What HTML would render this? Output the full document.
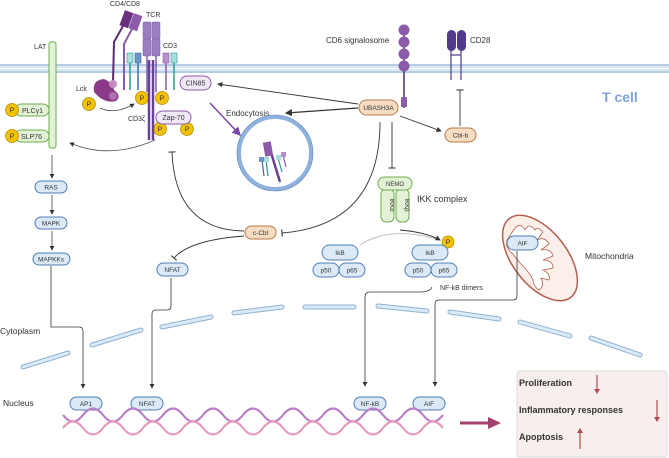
<!DOCTYPE html><html><head><style>body{margin:0;background:#fff}svg{display:block}text{font-family:"Liberation Sans",sans-serif}</style></head><body>
<svg width="669" height="458" viewBox="0 0 669 458" xmlns="http://www.w3.org/2000/svg">
<defs>
<marker id="a" markerWidth="6" markerHeight="6" refX="5" refY="3" orient="auto"><path d="M0,0L6,3L0,6z" fill="#333"/></marker>
<marker id="ap" markerWidth="6" markerHeight="6" refX="5" refY="3" orient="auto"><path d="M0,0L6,3L0,6z" fill="#7a4aa8"/></marker>
<marker id="t" markerWidth="2" markerHeight="8" refX="1" refY="4" orient="auto"><path d="M1,0V8" stroke="#333" stroke-width="1.2"/></marker>
</defs>
<rect x="0" y="64" width="669" height="9" fill="#dbe9f5"/>
<line x1="0" y1="65" x2="669" y2="65" stroke="#9dbcd9" stroke-width="1.2"/>
<line x1="0" y1="72" x2="669" y2="72" stroke="#9dbcd9" stroke-width="1.2"/>
<line x1="0" y1="68.5" x2="669" y2="68.5" stroke="#fff" stroke-width="1"/>
<text x="602" y="102" font-size="14" fill="#7ea3d8" font-weight="bold">T cell</text>
<text x="34" y="49" font-size="7" fill="#333">LAT</text>
<rect x="49" y="42" width="7" height="106" rx="2" fill="#e3f2d6" stroke="#6fae4e"/>
<g font-size="7" fill="#333">
<rect x="15" y="104" width="34" height="12" rx="6" fill="#e3f2d6" stroke="#6fae4e"/><text x="22" y="113">PLCγ1</text>
<rect x="15" y="130" width="34" height="12" rx="6" fill="#e3f2d6" stroke="#6fae4e"/><text x="21" y="139">SLP76</text>
</g>
<g fill="#f2c200" stroke="#b08a00" stroke-width=".7">
<circle cx="12" cy="110" r="6.5"/><circle cx="12" cy="136" r="6.5"/>
<circle cx="89" cy="104" r="6.5"/><circle cx="142" cy="98" r="6.5"/><circle cx="162" cy="98" r="6.5"/>
<circle cx="160" cy="129" r="6.5"/><circle cx="187" cy="129" r="6.5"/><circle cx="448" cy="242" r="6"/>
</g>
<g font-size="7" fill="#333" text-anchor="middle">
<text x="12" y="112.5">P</text><text x="12" y="138.5">P</text><text x="89" y="106.5">P</text><text x="142" y="100.5">P</text><text x="162" y="100.5">P</text><text x="160" y="131.5">P</text><text x="187" y="131.5">P</text><text x="448" y="244.5">P</text>
</g>
<g font-size="6.5" fill="#333" text-anchor="middle">
<rect x="35" y="181" width="32" height="12" rx="6" fill="#dceaf7" stroke="#4f7fb3"/><text x="51" y="189.5">RAS</text>
<rect x="35" y="217" width="32" height="12" rx="6" fill="#dceaf7" stroke="#4f7fb3"/><text x="51" y="225.5">MAPK</text>
<rect x="33" y="253" width="37" height="12" rx="6" fill="#dceaf7" stroke="#4f7fb3"/><text x="51" y="261.5">MAPKKs</text>
</g>
<g stroke="#444" stroke-width=".8" fill="none" marker-end="url(#a)">
<line x1="52" y1="155" x2="52" y2="178"/><line x1="52" y1="195" x2="52" y2="214"/><line x1="52" y1="231" x2="52" y2="250"/>
</g>
<text x="110" y="6" font-size="7" fill="#333">CD4/CD8</text>
<g stroke-width="2" fill="none"><path d="M123,26 L114,42 L113,82" stroke="#5d2a6e"/><path d="M132,29 L124,44 L124,90" stroke="#8b5aa8"/></g>
<rect x="122" y="11" width="9" height="16" fill="#6b2f80" transform="rotate(20 126 19)"/>
<rect x="131" y="14" width="9" height="16" fill="#8b5aa8" transform="rotate(20 135 22)"/>
<path d="M94,92 Q92,80 104,79 Q112,82 114,90 Q122,96 116,101 Q104,104 94,92z" fill="#8a3a86"/>
<circle cx="113" cy="84" r="4" fill="#c58ac0"/><circle cx="113" cy="96" r="4" fill="#b070b0"/>
<text x="76" y="91" font-size="7" fill="#333">Lck</text>
<text x="146" y="17" font-size="7" fill="#333">TCR</text>
<g fill="#9b7ec0" stroke="#7a5ea8" stroke-width=".5">
<rect x="143" y="22" width="8" height="17" rx="1"/><rect x="143" y="39" width="8" height="17" rx="1"/>
<rect x="152" y="22" width="8" height="17" rx="1"/><rect x="152" y="39" width="8" height="17" rx="1"/></g>
<g stroke-width="1.5"><line x1="147" y1="56" x2="147" y2="92" stroke="#7a5ea8"/><line x1="156" y1="56" x2="156" y2="92" stroke="#7a5ea8"/>
<line x1="149" y1="60" x2="149" y2="140" stroke="#6a3f98" stroke-width="2.5"/><line x1="153" y1="60" x2="153" y2="140" stroke="#6a3f98" stroke-width="2.5"/>
<line x1="130" y1="62" x2="130" y2="90" stroke="#2a9a9a"/><line x1="138" y1="62" x2="138" y2="90" stroke="#3a6ea8"/><line x1="166" y1="62" x2="166" y2="90" stroke="#8b5aa8"/><line x1="174" y1="62" x2="174" y2="90" stroke="#2a9a9a"/></g>
<rect x="127" y="53" width="6" height="10" fill="#a8dde0" stroke="#2a9a9a" stroke-width=".6"/>
<rect x="135" y="53" width="6" height="10" fill="#6f94c8" stroke="#3a6ea8" stroke-width=".6"/>
<rect x="163" y="53" width="6" height="10" fill="#b990cf" stroke="#8b5aa8" stroke-width=".6"/>
<rect x="171" y="53" width="6" height="10" fill="#a8dde0" stroke="#2a9a9a" stroke-width=".6"/>
<text x="163" y="48" font-size="7" fill="#333">CD3</text>
<text x="128" y="121" font-size="7" fill="#333">CD3ζ</text>
<rect x="156" y="111" width="35" height="13" rx="6.5" fill="#f0e8f7" stroke="#8b5aa8"/><text x="173.5" y="120" font-size="7" fill="#333" text-anchor="middle">Zap-70</text>
<rect x="180" y="76" width="31" height="14" rx="7" fill="#f0e8f7" stroke="#8b5aa8"/><text x="195.5" y="85.5" font-size="7" fill="#333" text-anchor="middle">CIN85</text>
<path d="M100,108 Q115,115 134,104" stroke="#444" stroke-width=".8" fill="none" marker-end="url(#a)"/>
<path d="M155,140 Q110,160 70,143" stroke="#555" stroke-width=".8" fill="none" marker-end="url(#a)"/>
<line x1="210" y1="103" x2="240" y2="135" stroke="#7a4aa8" stroke-width="1.5" marker-end="url(#ap)"/>
<text x="226" y="116" font-size="8" fill="#333">Endocytosis</text>
<circle cx="275" cy="153" r="36" fill="#fff" stroke="#8fb2dc" stroke-width="4"/>
<circle cx="275" cy="153" r="38" fill="none" stroke="#5e86bf" stroke-width=".6"/>
<g stroke-width="1.2"><line x1="269" y1="146" x2="280" y2="182" stroke="#6a3f98" stroke-width="2.5"/><line x1="262" y1="160" x2="264" y2="176" stroke="#3a6ea8"/><line x1="266" y1="160" x2="268" y2="176" stroke="#2a9a9a"/><line x1="278" y1="158" x2="282" y2="172" stroke="#2a9a9a"/><line x1="283" y1="155" x2="286" y2="167" stroke="#8b5aa8"/></g>
<rect x="264" y="142" width="8" height="14" fill="#8b5aa8" transform="rotate(-10 268 149)"/>
<g fill="#6f94c8"><rect x="259" y="157" width="5" height="5"/></g><g fill="#a8dde0"><rect x="264" y="157" width="5" height="5"/><rect x="276" y="155" width="5" height="5"/></g><rect x="281" y="152" width="5" height="5" fill="#b990cf"/>
<text x="326" y="43" font-size="8" fill="#333">CD6 signalosome</text>
<line x1="404" y1="30" x2="404" y2="108" stroke="#4b2a6e" stroke-width="1.5"/>
<g fill="#8b5aa8"><circle cx="404" cy="30" r="5.5"/><circle cx="404" cy="42" r="5.5"/><circle cx="404" cy="54" r="5.5"/><circle cx="404" cy="66" r="5.5"/><rect x="401" y="97" width="6" height="10" rx="1"/></g>
<rect x="447" y="30" width="9" height="21" rx="4.5" fill="#4f3a8c"/><rect x="457" y="30" width="9" height="21" rx="4.5" fill="#4f3a8c"/>
<g stroke="#4f3a8c" stroke-width="1.2"><line x1="451" y1="50" x2="451" y2="80"/><line x1="461" y1="50" x2="461" y2="80"/><line x1="451" y1="55" x2="461" y2="55"/></g>
<text x="470" y="43" font-size="8" fill="#333">CD28</text>
<g font-size="6.5" fill="#333" text-anchor="middle">
<rect x="359" y="100" width="39" height="15" rx="7.5" fill="#f5dcc3" stroke="#b97a47"/><text x="378.5" y="110">UBASH3A</text>
<rect x="445" y="128" width="31" height="14" rx="7" fill="#f5dcc3" stroke="#b97a47"/><text x="460.5" y="137.5">Cbl-b</text>
<rect x="245" y="226" width="31" height="13" rx="6.5" fill="#f5dcc3" stroke="#b97a47"/><text x="260.5" y="235">c-Cbl</text>
</g>
<g stroke="#333" stroke-width=".9" fill="none">
<line x1="358" y1="104" x2="218" y2="84" marker-end="url(#a)"/>
<line x1="358" y1="108" x2="286" y2="113" stroke-width="1.2" marker-end="url(#a)"/>
<line x1="400" y1="116" x2="441" y2="131" marker-end="url(#a)"/>
<line x1="460" y1="126" x2="460" y2="90" marker-end="url(#t)"/>
<line x1="392" y1="122" x2="392" y2="168" marker-end="url(#t)"/>
<path d="M380,122 Q380,225 282,233" marker-end="url(#t)"/>
<path d="M244,231 Q175,230 172,152" marker-end="url(#t)"/>
<path d="M244,236 Q190,240 174,258" marker-end="url(#t)"/>
<path d="M360,245 Q390,225 440,240" stroke="#bbb" />
<path d="M400,230 Q425,232 440,240" marker-end="url(#a)"/>
</g>
<g font-size="6" fill="#333" text-anchor="middle">
<rect x="381" y="189" width="13" height="33" rx="5" fill="#e3f2d6" stroke="#6fae4e"/><rect x="396" y="189" width="13" height="33" rx="5" fill="#e3f2d6" stroke="#6fae4e"/>
<text transform="translate(390 205) rotate(90)">IKKα</text><text transform="translate(405 205) rotate(90)">IKKβ</text>
<rect x="378" y="177" width="34" height="13" rx="6.5" fill="#e3f2d6" stroke="#6fae4e"/><text x="395" y="186">NEMO</text>
</g>
<text x="417" y="202" font-size="9" fill="#333">IKK complex</text>
<g font-size="6.5" fill="#333" text-anchor="middle">
<rect x="322" y="245" width="36" height="15" rx="7.5" fill="#dceaf7" stroke="#4f7fb3"/><text x="340" y="255">IkB</text>
<rect x="313" y="263" width="26" height="14" rx="7" fill="#dceaf7" stroke="#4f7fb3"/><text x="326" y="272.5">p50</text>
<rect x="339" y="263" width="26" height="14" rx="7" fill="#dceaf7" stroke="#4f7fb3"/><text x="352" y="272.5">p65</text>
<rect x="412" y="245" width="36" height="15" rx="7.5" fill="#dceaf7" stroke="#4f7fb3"/><text x="430" y="255">IkB</text>
<rect x="405" y="263" width="26" height="14" rx="7" fill="#dceaf7" stroke="#4f7fb3"/><text x="418" y="272.5">p50</text>
<rect x="431" y="263" width="26" height="14" rx="7" fill="#dceaf7" stroke="#4f7fb3"/><text x="444" y="272.5">p65</text>
<rect x="157" y="263" width="31" height="13" rx="6.5" fill="#dceaf7" stroke="#4f7fb3"/><text x="172.5" y="272">NFAT</text>
</g>
<text x="440" y="290" font-size="7" fill="#333">NF-kB dimers</text>
<!-- mitochondria -->
<ellipse cx="540" cy="258" rx="50" ry="27" transform="rotate(52 540 258)" fill="#fbefea" stroke="#b5604f" stroke-width="1.5"/>
<path d="M515,228 q6,-6 10,2 q4,-8 10,0 q2,-4 8,2 l-6,8 q8,-4 12,4 l-8,6 q10,-2 12,6 l-10,4 q10,0 10,8 l-10,2 q8,4 6,10 l-8,-2 q4,8 -2,12 q-6,-4 -6,-10 l-2,-4 q-4,-6 -8,-10 q-6,-6 -10,-12 q-8,-6 -6,-14z" fill="#fff" stroke="#b5604f" stroke-width=".8"/>
<text x="585" y="259" font-size="8.5" fill="#333">Mitochondria</text>
<rect x="507" y="236" width="31" height="14" rx="7" fill="#dceaf7" stroke="#4f7fb3"/><text x="522.5" y="245.5" font-size="6.5" fill="#333" text-anchor="middle">AIF</text>
<g stroke="#8fb2d4" stroke-width="5" stroke-linecap="round">
<line x1="23" y1="367" x2="68" y2="353"/><line x1="92" y1="345" x2="141" y2="330"/><line x1="162" y1="327" x2="211" y2="317"/><line x1="234" y1="313" x2="282" y2="307"/><line x1="305" y1="307" x2="354" y2="307"/><line x1="378" y1="306" x2="427" y2="311"/><line x1="450" y1="312" x2="499" y2="319"/><line x1="520" y1="322" x2="570" y2="336"/><line x1="591" y1="338" x2="640" y2="355"/></g>
<g stroke="#dceaf7" stroke-width="3" stroke-linecap="round">
<line x1="23" y1="367" x2="68" y2="353"/><line x1="92" y1="345" x2="141" y2="330"/><line x1="162" y1="327" x2="211" y2="317"/><line x1="234" y1="313" x2="282" y2="307"/><line x1="305" y1="307" x2="354" y2="307"/><line x1="378" y1="306" x2="427" y2="311"/><line x1="450" y1="312" x2="499" y2="319"/><line x1="520" y1="322" x2="570" y2="336"/><line x1="591" y1="338" x2="640" y2="355"/></g>
<text x="0" y="334" font-size="8.5" fill="#333">Cytoplasm</text>
<text x="3" y="406" font-size="8.5" fill="#333">Nucleus</text>
<g stroke="#333" stroke-width=".8" fill="none" marker-end="url(#a)">
<path d="M51,266 V327 H79 Q83,327 83,331 V388"/>
<path d="M171,278 V306 Q171,310 167,310 H156 Q152,310 152,314 V388"/>
<path d="M432,287 Q430,292 420,292 H370 Q365,292 365,297 V386"/>
<path d="M517,251 V296 Q517,300 513,300 H439 Q435,300 435,304 V386"/>
</g>
<g font-size="6.5" fill="#333" text-anchor="middle">
<rect x="70" y="397" width="32" height="13" rx="6.5" fill="#dceaf7" stroke="#4f7fb3"/><text x="86" y="406">AP1</text>
<rect x="131" y="397" width="32" height="13" rx="6.5" fill="#dceaf7" stroke="#4f7fb3"/><text x="147" y="406">NFAT</text>
<rect x="354" y="397" width="32" height="13" rx="6.5" fill="#dceaf7" stroke="#4f7fb3"/><text x="370" y="406">NF-kB</text>
<rect x="413" y="397" width="32" height="13" rx="6.5" fill="#dceaf7" stroke="#4f7fb3"/><text x="429" y="406">AIF</text>
</g>
<path d="M63,415 Q73,428 83,415 T103,415 T123,415 T143,415 T163,415 T183,415 T203,415 T223,415 T243,415 T263,415 T283,415 T303,415 T323,415 T343,415 T363,415 T383,415 T403,415 T423,415 T443,415" stroke="#b97ec6" stroke-width="2.2" fill="none"/>
<path d="M63,428 Q73,415 83,428 T103,428 T123,428 T143,428 T163,428 T183,428 T203,428 T223,428 T243,428 T263,428 T283,428 T303,428 T323,428 T343,428 T363,428 T383,428 T403,428 T423,428 T443,428" stroke="#e79ac0" stroke-width="2.2" fill="none"/>
<line x1="460" y1="423" x2="490" y2="423" stroke="#a2406e" stroke-width="3"/><path d="M488,417 L501,423 L488,429z" fill="#a2406e"/>
<rect x="517" y="371" width="150" height="86" rx="3" fill="#f7efee" stroke="#ddd"/>
<g font-size="9" font-weight="bold" fill="#333"><text x="519" y="386">Proliferation</text><text x="519" y="413">Inflammatory responses</text><text x="519" y="440">Apoptosis</text></g>
<g stroke="#b04a55" stroke-width="1.2"><line x1="597" y1="375" x2="597" y2="391"/><line x1="657" y1="400" x2="657" y2="419"/><line x1="580" y1="433" x2="580" y2="449"/></g>
<g fill="#b04a55"><path d="M594,389 L600,389 L597,394z"/><path d="M654,417 L660,417 L657,422z"/><path d="M577,433 L583,433 L580,428z"/></g>
</svg></body></html>
